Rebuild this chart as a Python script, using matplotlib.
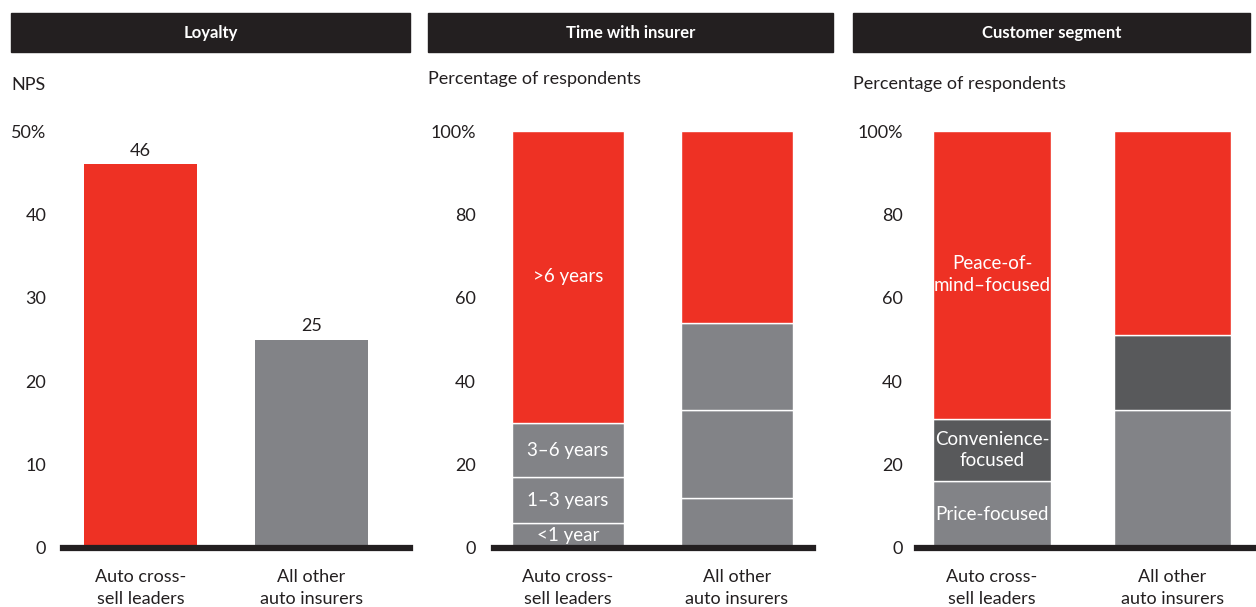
import matplotlib
matplotlib.use('Agg')
import matplotlib.pyplot as plt
from matplotlib.patches import Rectangle

plt.rcParams['font.family'] = ['Lato', 'DejaVu Sans']

RED = '#EE3124'
GRAY = '#828387'
DARK = '#58595B'
BLACK = '#231F20'
TEXT = '#231F20'

groups = ['Auto cross-\nsell leaders', 'All other\nauto insurers']

# Loyalty (NPS)
nps = [46, 25]

# Time with insurer, % of respondents, bottom to top
tenure_labels = ['<1 year', '1\u20133 years', '3\u20136 years', '>6 years']
tenure_leaders = [6, 11, 13, 70]
tenure_others = [12, 21, 21, 46]

# Customer segment, % of respondents, bottom to top
segment_labels = ['Price-focused', 'Convenience-\nfocused', 'Peace-of-\nmind\u2013focused']
segment_leaders = [16, 15, 69]
segment_others = [33, 18, 49]

W, H = 1256, 607
fig = plt.figure(figsize=(W / 100, H / 100), dpi=100)


def px(x0, y0, x1, y1):
    return [x0 / W, 1 - y1 / H, (x1 - x0) / W, (y1 - y0) / H]


def header(x0, x1, title):
    fig.patches.append(Rectangle((x0 / W, 1 - 52 / H), (x1 - x0) / W, 39 / H,
                                 transform=fig.transFigure, color=BLACK, zorder=0))
    fig.text((x0 + x1) / 2 / W, 1 - 33 / H, title, color='white', fontsize=12,
             fontweight='bold', ha='center', va='center')


def style(ax, top, step, pad):
    ax.set_ylim(0, top)
    ticks = list(range(0, top + 1, step))
    ax.set_yticks(ticks)
    ax.set_yticklabels([str(t) if t < top else f'{t}%' for t in ticks])
    ax.set_xticks([0, 1])
    ax.set_xticklabels(groups, linespacing=1.45)
    ax.tick_params(axis='y', length=0, pad=pad, labelsize=13, labelcolor=TEXT)
    ax.tick_params(axis='x', length=0, pad=15, labelsize=13, labelcolor=TEXT)
    for s in ['top', 'right', 'left']:
        ax.spines[s].set_visible(False)
    ax.spines['bottom'].set_linewidth(4.5)
    ax.spines['bottom'].set_color(BLACK)
    ax.spines['bottom'].set_zorder(5)
    ax.patch.set_alpha(0)


def stacked(ax, leaders, others, colors, labels, width):
    for i, vals in enumerate([leaders, others]):
        bottom = 0
        for v, c in zip(vals, colors):
            ax.bar(i, v, width, bottom=bottom, color=c, edgecolor='white',
                   linewidth=1)
            bottom += v
    bottom = 0
    for v, lab in zip(leaders, labels):
        ax.text(0, bottom + v / 2, lab, color='white', fontsize=13.5,
                ha='center', va='center', linespacing=1.35)
        bottom += v


# Loyalty
header(11, 410, 'Loyalty')
fig.text(11 / W, 1 - 85 / H, 'NPS', fontsize=13, color=TEXT, va='center')
ax1 = fig.add_axes(px(63, 131, 410, 548))
ax1.bar([0, 1], nps, 0.66, color=[RED, GRAY])
for i, v in enumerate(nps):
    ax1.annotate(str(v), (i, v), xytext=(0, 4), textcoords='offset points',
                 ha='center', va='bottom', fontsize=13, color=TEXT)
ax1.set_xlim(-0.453, 1.576)
style(ax1, 50, 10, 12)

# Time with insurer
header(428, 833, 'Time with insurer')
fig.text(428 / W, 1 - 79 / H, 'Percentage of respondents', fontsize=13,
         color=TEXT, va='center')
ax2 = fig.add_axes(px(494, 131, 813, 548))
stacked(ax2, tenure_leaders, tenure_others, [GRAY, GRAY, GRAY, RED],
        tenure_labels, 0.663)
ax2.set_xlim(-0.438, 1.45)
style(ax2, 100, 20, 13)

# Customer segment
header(853, 1250, 'Customer segment')
fig.text(853 / W, 1 - 84 / H, 'Percentage of respondents', fontsize=13,
         color=TEXT, va='center')
ax3 = fig.add_axes(px(917, 131, 1256, 548))
stacked(ax3, segment_leaders, segment_others, [GRAY, DARK, RED],
        segment_labels, 0.65)
ax3.set_xlim(-0.416, 1.463)
style(ax3, 100, 20, 10)

fig.savefig('out.png', dpi=100)
